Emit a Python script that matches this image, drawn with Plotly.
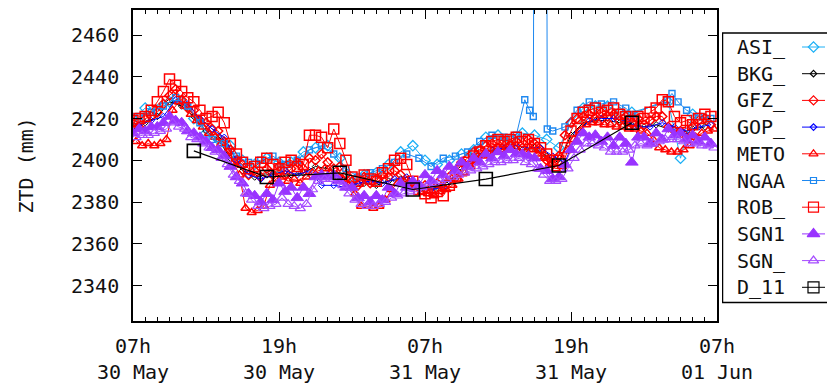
import numpy as np
import pandas as pd
import plotly.graph_objects as go

BASE = pd.Timestamp("2011-05-30 07:00")

# ---------------- data (ZTD in mm) ----------------
half_hours = [h * 0.5 for h in range(96)]
half_hours_q = [h * 0.5 + 0.25 for h in range(96)]
hours_00 = [float(h) for h in range(48)]
hours_30 = [h + 0.5 for h in range(48)]

asi_vals = [2420, 2425, 2424, 2428, 2428, 2420, 2413, 2410, 2407, 2400,
            2398, 2401, 2399, 2399, 2404, 2406, 2407, 2401, 2389, 2393,
            2394, 2398, 2404, 2407, 2400, 2398, 2400, 2403, 2405, 2411,
            2412, 2410, 2413, 2412, 2410, 2406, 2418, 2425, 2426, 2426,
            2423, 2423, None, None, 2428, 2401, 2422, 2420]

bkg_vals = [2416, 2418, 2421, 2428, 2426, 2421, 2414, 2410, 2401, 2395,
            2392, 2393, 2394, 2393, 2394, 2397, 2396, 2392, 2386, 2389,
            2388, 2390, 2391, 2388, 2386, 2387, 2390, 2396, 2401, 2404,
            2405, 2406, 2405, 2406, 2402, 2399, 2412, 2418, 2419, 2419,
            2418, 2417, 2416, 2417, 2415, 2413, 2415, 2416]

gfz_vals = [2418, 2416, 2420, 2421, 2423, 2427, 2431, 2434, 2429, 2425,
            2424, 2419, 2418, 2415, 2414, 2409, 2405, 2400, 2398, 2393,
            2395, 2392, 2396, 2393, 2397, 2393, 2396, 2399, 2396, 2401,
            2400, 2403, 2399, 2396, 2397, 2393, 2390, 2388, 2392, 2389,
            2391, 2393, 2392, 2395, 2393, 2390, 2389, 2387, 2388, 2385,
            2389, 2387, 2392, 2395, 2399, 2401, 2404, 2405, 2407, 2408,
            2406, 2409, 2407, 2409, 2406, 2410, 2408, 2405, 2400, 2398,
            2402, 2412, 2418, 2420, 2421, 2422, 2420, 2423, 2421, 2422,
            2419, 2421, 2418, 2420, 2417, 2419, 2421, 2421, 2416, 2414,
            2414, 2411, 2416, 2419, 2420, 2417]

gop_vals = [2417, 2419, 2421, 2429, 2427, 2420, 2415, 2411, 2400, 2393,
            2391, 2393, 2395, 2393, 2395, 2388, 2388, 2387, 2389, 2390,
            2389, 2391, 2392, 2389, 2386, 2387, 2391, 2397, 2402, 2405,
            2406, 2407, 2406, 2406, 2402, 2399, 2413, 2419, 2420, 2420,
            2419, 2416, 2416, 2418, 2416, 2414, 2416, 2417]

meto_vals = [2409, 2407, 2408, 2407, 2408, 2410, 2424, 2428, 2426, 2422,
             2419, 2416, 2413, 2411, 2408, 2404, 2399, 2393, 2377, 2375,
             2376, 2378, 2388, 2391, 2392, 2390, 2391, 2389, 2392, 2394,
             2395, 2396, 2394, 2393, 2391, 2388, 2384, 2378, 2378, 2377,
             2378, 2381, 2386, 2389, 2390, 2389, 2387, 2385, 2384, 2383,
             2385, 2386, 2388, 2391, 2394, 2397, 2400, 2402, 2403, 2404,
             2405, 2406, 2405, 2404, 2404, 2405, 2403, 2401, 2398, 2396,
             2397, 2405, 2410, 2414, 2417, 2418, 2418, 2417, 2417, 2416,
             2416, 2415, 2415, 2414, 2413, 2410, 2406, 2405, 2404, 2404,
             2405, 2407, 2411, 2413, 2414, 2415]

ngaa_hours = [h + 0.5 for h in range(32)] + [
    32.2, 32.6, 32.9, 33.1, 33.9, 34.05, 34.5, 35.5, 36.5, 37.5,
    38.5, 39.5, 40.5, 41.0, 43.9, 44.3, 44.8, 45.5, 46.5, 47.5]
ngaa_vals = [2421, 2423, 2426, 2430, 2426, 2418, 2410, 2408, 2402, 2399,
             2400, 2402, 2398, 2400, 2405, 2407, 2403, 2396, 2392, 2394,
             2396, 2399, 2403, 2401, 2397, 2401, 2402, 2404, 2409, 2412,
             2411, 2412,
             2429, 2424, 2421, 2800, 2800, 2415, 2414, 2416, 2424, 2428,
             2427, 2428, 2425, 2422, 2429, 2432, 2428, 2424, 2421, 2420]

rob_vals = [2419, 2420, 2421, 2424, 2428, 2433, 2439, 2436, 2433, 2430,
            2428, 2424, 2420, 2421, 2423, 2418, 2408, 2403, 2399, 2396,
            2397, 2399, 2401, 2398, 2396, 2399, 2400, 2397, 2398, 2412,
            2412, 2411, 2406, 2415, 2408, 2400, 2392, 2390, 2393, 2391,
            2390, 2394, 2396, 2400, 2401, 2398, 2390, 2386, 2384, 2382,
            2385, 2383, 2388, 2392, 2395, 2399, 2402, 2404, 2407, 2409,
            2410, 2409, 2410, 2411, 2409, 2410, 2408, 2406, 2403, 2400,
            2400, 2406, 2414, 2420, 2423, 2424, 2425, 2423, 2424, 2425,
            2422, 2421, 2419, 2421, 2420, 2423, 2425, 2429, 2428, 2421,
            2418, 2419, 2417, 2420, 2422, 2421]

sgn1_vals = [2413, 2415, 2414, 2416, 2416, 2418, 2421, 2419, 2418, 2414,
             2413, 2411, 2409, 2406, 2405, 2402, 2397, 2392, 2389, 2384,
             2383, 2380, 2384, 2381, 2389, 2385, 2387, 2382, 2387, 2384,
             2392, 2393, 2392, 2393, 2390, 2387, 2387, 2382, 2383, 2380,
             2383, 2381, 2387, 2384, 2389, 2387, 2390, 2388, 2393, 2390,
             2395, 2393, 2397, 2395, 2399, 2397, 2401, 2399, 2403, 2401,
             2404, 2402, 2405, 2403, 2403, 2402, 2401, 2396, 2395, 2391,
             2392, 2398, 2405, 2409, 2413, 2411, 2412, 2409, 2411, 2407,
             2411, 2408, 2399, 2411, 2411, 2408, 2413, 2410, 2415, 2412,
             2413, 2410, 2412, 2409, 2411, 2408]

sgn_vals = [2411, 2412, 2412, 2413, 2414, 2415, 2418, 2416, 2415, 2411,
            2410, 2408, 2406, 2404, 2401, 2398, 2393, 2390, 2384, 2381,
            2378, 2377, 2378, 2379, 2382, 2379, 2378, 2377, 2379, 2386,
            2390, 2391, 2391, 2390, 2388, 2384, 2381, 2379, 2378, 2378,
            2379, 2380, 2382, 2383, 2384, 2385, 2386, 2387, 2388, 2389,
            2390, 2391, 2392, 2393, 2394, 2395, 2396, 2397, 2398, 2399,
            2399, 2400, 2400, 2401, 2399, 2398, 2396, 2393, 2390, 2390,
            2391, 2396, 2401, 2405, 2408, 2408, 2407, 2406, 2404, 2404,
            2404, 2405, 2407, 2408, 2407, 2408, 2409, 2410, 2410, 2410,
            2409, 2408, 2408, 2407, 2407, 2406]

d11_hours = [5.0, 11.0, 17.0, 23.0, 29.0, 35.0, 41.0]
d11_vals = [2404.5, 2392, 2394, 2386, 2391, 2397.5, 2418]

# name, hours, values, colour, symbol, marker size, marker outline width
series = [
    ("ASI_", hours_00, asi_vals, "#1CB0F6", "diamond-open", 8, 1.3),
    ("BKG_", hours_00, bkg_vals, "#000000", "diamond-open", 5, 1.0),
    ("GFZ_", half_hours, gfz_vals, "#FF0000", "diamond-open", 7, 1.5),
    ("GOP_", hours_30, gop_vals, "#0000FF", "diamond-open", 5, 1.0),
    ("METO", half_hours_q, meto_vals, "#FF0000", "triangle-up-open", 8, 1.5),
    ("NGAA", ngaa_hours, ngaa_vals, "#1E88F0", "square-open", 6, 1.4),
    ("ROB_", half_hours, rob_vals, "#FF0000", "square-open", 10, 1.5),
    ("SGN1", half_hours, sgn1_vals, "#9933FF", "triangle-up", 11, 1.0),
    ("SGN_", half_hours_q, sgn_vals, "#A54BFF", "triangle-up-open", 9, 1.2),
    ("D_11", d11_hours, d11_vals, "#000000", "square-open", 13, 1.6),
]

FONT = "DejaVu Sans Mono"
OFF = 8  # page offset of the figure (body margin)


def to_time(hours):
    return [BASE + pd.Timedelta(hours=h) for h in hours]


fig = go.Figure()
for name, hrs, vals, col, sym, size, mlw in series:
    big = name == "D_11"
    fig.add_trace(go.Scatter(
        x=to_time(hrs), y=vals, mode="lines+markers", name=name,
        connectgaps=True, showlegend=False,
        line=dict(color=col, width=1.2 if big else 1),
        marker=dict(symbol=sym, size=size, color=col,
                    line=dict(color=col, width=mlw)),
        cliponaxis=True,
    ))

# ---------------- custom gnuplot-style key (page pixel coordinates) ----------------
key_top = 47.0
key_step = 26.7
annotations = []
for i, (name, hrs, vals, col, sym, size, mlw) in enumerate(series):
    yc = key_top + key_step * i
    fig.add_trace(go.Scatter(
        x=[802, 813.5, 825], y=[yc, yc, yc], mode="lines+markers",
        xaxis="x2", yaxis="y2", showlegend=False, hoverinfo="skip",
        line=dict(color=col, width=1),
        marker=dict(symbol=sym, size=min(size, 11), color=col, opacity=[0, 1, 0],
                    line=dict(color=col, width=1.2)),
    ))
    annotations.append(dict(
        x=735, y=yc, xref="x2", yref="y2", text=name, showarrow=False,
        xanchor="left", yanchor="middle",
        font=dict(family=FONT, size=20, color="#111111")))

annotations.append(dict(
    x=(25 - 133) / 702, y=0.5, xref="paper", yref="paper", text="ZTD (mm)",
    textangle=-90, showarrow=False, xanchor="center", yanchor="middle",
    font=dict(family=FONT, size=20, color="#111111")))

fig.update_layout(
    width=835 - OFF, height=390 - OFF, autosize=False,
    margin=dict(l=133 - OFF, r=0, t=10 - OFF, b=69, pad=0, autoexpand=False),
    paper_bgcolor="white", plot_bgcolor="white",
    font=dict(family=FONT, size=20, color="#111111"),
    showlegend=False,
    annotations=annotations,
    shapes=[dict(type="rect", xref="x2", yref="y2", x0=722.5, x1=850,
                 y0=33, y1=302.5, line=dict(color="black", width=1.5),
                 fillcolor="rgba(0,0,0,0)")],
    xaxis=dict(
        domain=[0, 584 / 702], type="date", automargin=False,
        range=[BASE, BASE + pd.Timedelta(hours=48)],
        tick0=BASE, dtick=12 * 3600 * 1000, tickformat="%Hh<br>%d %b",
        ticks="inside", ticklen=9, tickwidth=1.2, tickcolor="black",
        showline=True, linecolor="black", linewidth=1.6, mirror="ticks",
        showgrid=False, zeroline=False, ticklabelstandoff=6,
        minor=dict(dtick=3600 * 1000, ticks="inside", ticklen=4,
                   tickcolor="black", tickwidth=1, showgrid=False),
        tickfont=dict(family=FONT, size=20, color="#111111"),
    ),
    yaxis=dict(
        range=[2323, 2472], tick0=2340, dtick=20, automargin=False,
        ticks="inside", ticklen=9, tickwidth=1.2, tickcolor="black",
        showline=True, linecolor="black", linewidth=1.6, mirror="ticks",
        showgrid=False, zeroline=False, ticklabelstandoff=8,
        tickfont=dict(family=FONT, size=20, color="#111111"),
    ),
    xaxis2=dict(domain=[(722 - 133) / 702, 1], range=[722, 835], visible=False,
                anchor="y2", fixedrange=True, automargin=False),
    yaxis2=dict(domain=[0, 1], range=[321, 10], visible=False, anchor="x2",
                fixedrange=True, automargin=False),
)

fig.write_html("out.html")
